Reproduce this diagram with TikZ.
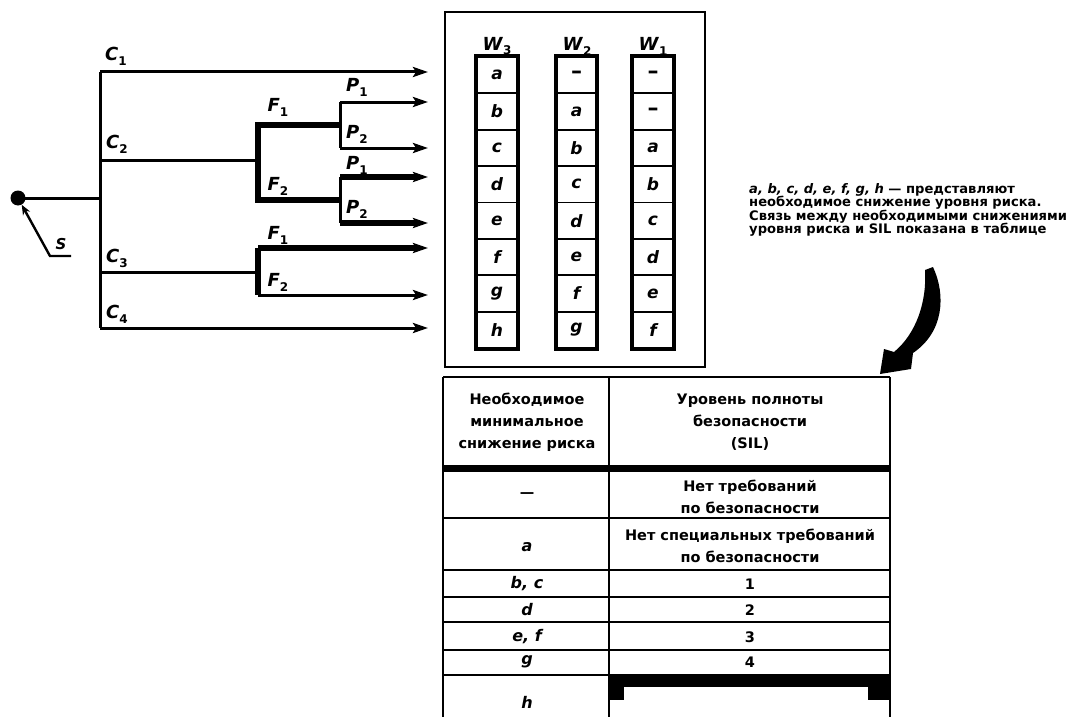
\documentclass[tikz,border=0pt]{standalone}
\usepackage{fontspec}
\setmainfont{DejaVu Sans}
\usetikzlibrary{arrows.meta}
\newcommand{\lbl}[2]{\textbf{\textit{#1}}\raisebox{-0.5ex}{\fontsize{12}{12}\selectfont\bfseries #2}}
\newcommand{\cdash}{{\fontsize{22}{22}\selectfont\bfseries\upshape –}}
\tikzset{
  thinln/.style={line width=3pt},
  thickln/.style={line width=5.4pt},
  tip/.style={-{Stealth[length=15pt,width=10pt,inset=3pt]}},
  lab/.style={font=\fontsize{18}{18}\selectfont, inner sep=0pt},
  cell/.style={draw, line width=1.8pt, minimum width=40pt, minimum height=36.375pt, inner sep=0pt,
    font=\fontsize{17}{17}\selectfont\bfseries\itshape},
  colbox/.style={draw, line width=4pt},
  tabtxt/.style={font=\fontsize{14.5}{22}\selectfont\bfseries, align=center, inner sep=0pt},
  tabletter/.style={tabtxt, font=\fontsize{16}{22}\selectfont\bfseries\itshape},
  tabln/.style={line width=2.4pt},
}
\begin{document}
\begin{tikzpicture}[x=1pt,y=-1pt]
\useasboundingbox (0,0) rectangle (1079,717);
% ---------- tree ----------
\node[circle, fill=black, minimum size=15pt, inner sep=0pt] (dot) at (18,198) {};
\coordinate (j0) at (100,198);
\coordinate (c1) at (100,72);
\coordinate (c2) at (100,160);
\coordinate (c3) at (100,272);
\coordinate (c4) at (100,328);
\coordinate (f2j) at (258,160);
\coordinate (f2t) at (258,125);
\coordinate (f2b) at (258,200);
\coordinate (p1j) at (340,125);
\coordinate (p2j) at (340,200);
\coordinate (p1t) at (340,102);
\coordinate (p1b) at (340,148);
\coordinate (p2t) at (340,177);
\coordinate (p2b) at (340,223);
\coordinate (f3j) at (258,272);
\coordinate (f3t) at (258,248);
\coordinate (f3b) at (258,295);
\coordinate (e1) at (428,72);
\coordinate (e2) at (428,102);
\coordinate (e3) at (428,148);
\coordinate (e4) at (428,177);
\coordinate (e5) at (428,223);
\coordinate (e6) at (428,248);
\coordinate (e7) at (428,295);
\coordinate (e8) at (428,328);
\coordinate (sA) at (71,256);
\coordinate (sB) at (50,256);

\draw[thinln] (dot.center) -- (j0);
\draw[thinln] (c1) -- (c4);
\draw[thinln, tip] (c1) -- (e1);
\draw[thinln] (c2) -- (f2j);
\draw[thickln] (p1j) -- (f2t) -- (f2b) -- (p2j);
\draw[thinln] (p1t) -- (p1b);
\draw[thinln, tip] (p1t) -- (e2);
\draw[thinln, tip] (p1b) -- (e3);
\draw[thinln] (p2t) -- (p2b);
\draw[thickln, tip] (p2t) -- (e4);
\draw[thickln, tip] (p2b) -- (e5);
\draw[thinln] (c3) -- (f3j);
\draw[thickln] (f3t) -- (f3b);
\draw[thickln, tip] (f3t) -- (e6);
\draw[thinln, tip] (f3b) -- (e7);
\draw[thinln, tip] (c4) -- (e8);
\draw[line width=2.4pt, -{Stealth[length=10pt,width=8pt]}] (sA) -- (sB) -- (dot);

\node[lab] (lc1) at (116,56) {\lbl{C}{1}};
\node[lab] (lc2) at (117,144) {\lbl{C}{2}};
\node[lab] (lc3) at (117,258) {\lbl{C}{3}};
\node[lab] (lc4) at (117,314) {\lbl{C}{4}};
\node[lab] (lf1) at (278,107) {\lbl{F}{1}};
\node[lab] (lf2) at (278,186) {\lbl{F}{2}};
\node[lab] (lf3) at (278,235) {\lbl{F}{1}};
\node[lab] (lf4) at (278,282) {\lbl{F}{2}};
\node[lab] (lp1) at (357,87) {\lbl{P}{1}};
\node[lab] (lp2) at (357,134) {\lbl{P}{2}};
\node[lab] (lp3) at (357,165) {\lbl{P}{1}};
\node[lab] (lp4) at (357,209) {\lbl{P}{2}};
\node[lab, font=\fontsize{15}{15}\selectfont] (ls) at (61,244) {\textbf{\textit{S}}};

% ---------- W box ----------
\draw[line width=2.8pt] (445,12) rectangle (705,367);
\node[lab] (w3) at (497,46) {\lbl{W}{3}};
\node[lab] (w2) at (577,46) {\lbl{W}{2}};
\node[lab] (w1) at (653,46) {\lbl{W}{1}};
\foreach \t [count=\i from 0] in {a,b,c,d,e,f,g,h}
  \node[cell] (a\i) at (497,{57+36.375*(\i+0.5)}) {\t};
\foreach \t [count=\i from 0] in {\cdash,a,b,c,d,e,f,g}
  \node[cell] (b\i) at (576.5,{57+36.375*(\i+0.5)}) {\t};
\foreach \t [count=\i from 0] in {\cdash,\cdash,a,b,c,d,e,f}
  \node[cell] (c\i) at (653,{57+36.375*(\i+0.5)}) {\t};
\draw[colbox] (a0.north west) rectangle (a7.south east);
\draw[colbox] (b0.north west) rectangle (b7.south east);
\draw[colbox] (c0.north west) rectangle (c7.south east);

% ---------- note ----------
\node[anchor=north west, align=left, inner sep=0pt,
  font=\fontsize{13.1}{13.6}\selectfont\bfseries] (note) at (749,183)
  {\textit{a, b, c, d, e, f, g, h} — представляют\\
   необходимое снижение уровня риска.\\
   Связь между необходимыми снижениями\\
   уровня риска и SIL показана в таблице};
\fill (925,270) -- (933,267) .. controls (946,295) and (944,332) .. (913,353)
  -- (911,369) -- (880,374) -- (884,349) -- (894,352)
  .. controls (916,334) and (927,302) .. cycle;

% ---------- table ----------
\draw[tabln] (443,377) -- (890,377);
\draw[tabln] (443,377) -- (443,717);
\draw[tabln] (609,377) -- (609,717);
\draw[tabln] (890,377) -- (890,717);
\fill (443,465) rectangle (890,472);
\foreach \yy in {518,570,597,622,650,675}
  \draw[tabln] (443,\yy) -- (890,\yy);
\fill (609,675) rectangle (890,687);
\fill (609,687) rectangle (624,700);
\fill (868,687) rectangle (890,700);

\node[tabtxt] (h1) at (527,422) {Необходимое\\минимальное\\снижение риска};
\node[tabtxt] (h2) at (750,422) {Уровень полноты\\безопасности\\(SIL)};
\node[tabtxt] (r1a) at (527,495) {—};
\node[tabtxt] (r1b) at (750,497) {Нет требований\\по безопасности};
\node[tabletter] (r2a) at (527,547) {a};
\node[tabtxt] (r2b) at (750,546) {Нет специальных требований\\по безопасности};
\node[tabletter] (r3a) at (527,584) {b, c};
\node[tabtxt] (r3b) at (750,584) {1};
\node[tabletter] (r4a) at (527,610) {d};
\node[tabtxt] (r4b) at (750,610) {2};
\node[tabletter] (r5a) at (527,637) {e, f};
\node[tabtxt] (r5b) at (750,637) {3};
\node[tabletter] (r6a) at (527,662) {g};
\node[tabtxt] (r6b) at (750,662) {4};
\node[tabletter] (r7a) at (527,702) {h};
\end{tikzpicture}
\end{document}
